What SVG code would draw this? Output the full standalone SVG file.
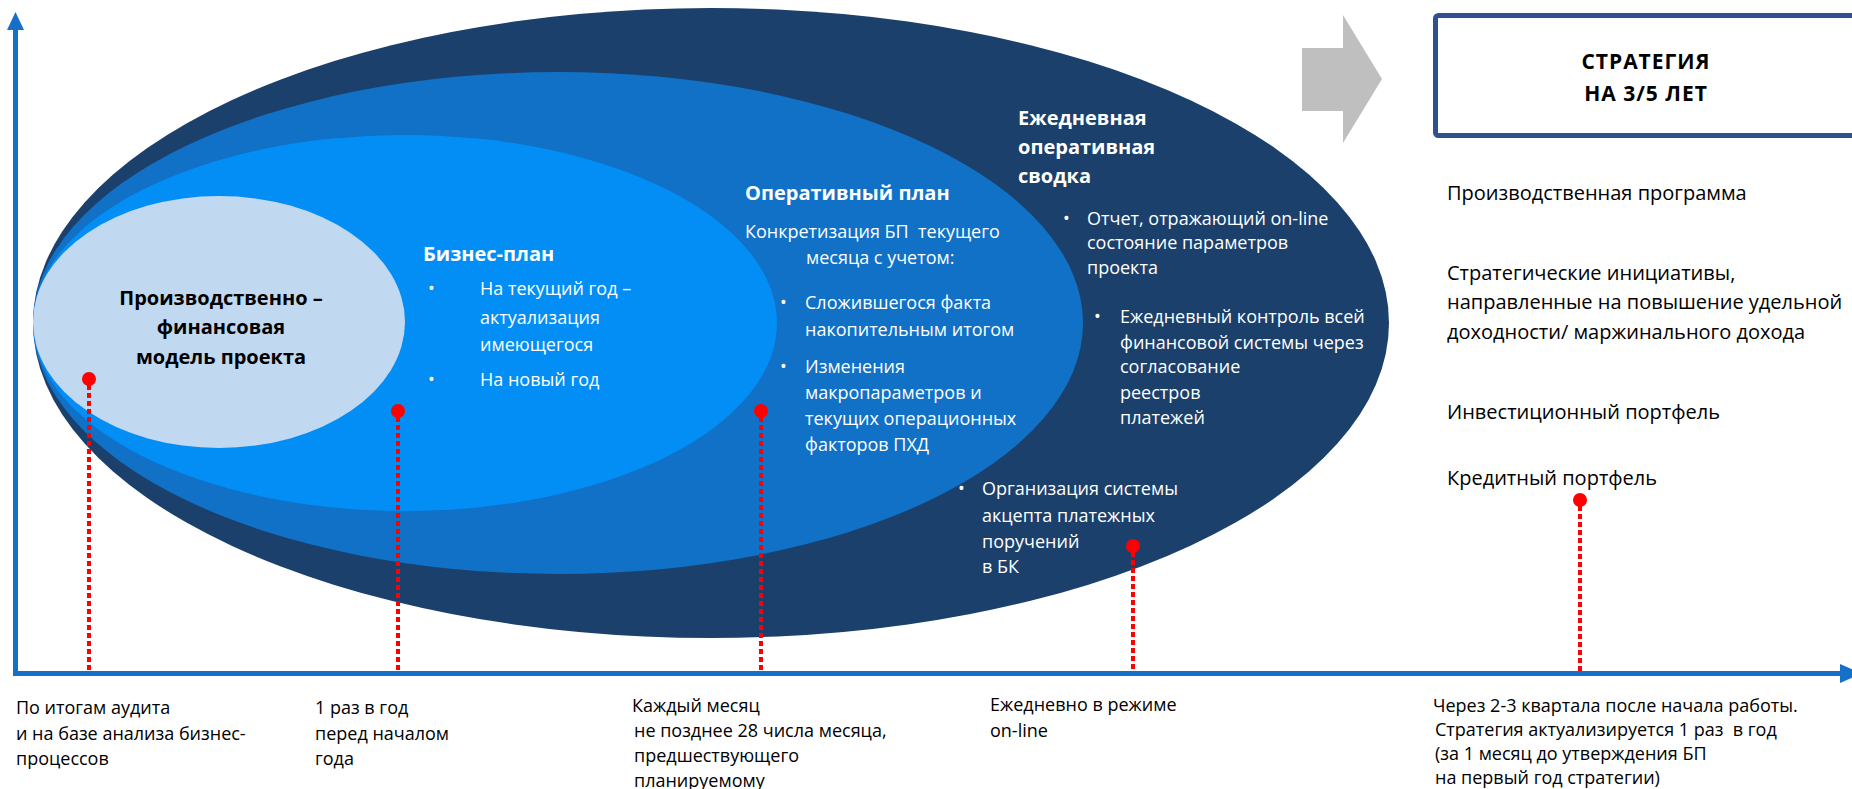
<svg xmlns="http://www.w3.org/2000/svg" width="1852" height="789" viewBox="0 0 1852 789">
<defs>
<style>
text{font-family:"Open Sans","Noto Sans","DejaVu Sans",sans-serif;white-space:pre;}
.w{fill:#ffffff;font-size:18px;}
.wb{fill:#ffffff;font-size:20px;font-weight:bold;}
.kb{fill:#000000;font-size:20px;font-weight:bold;}
.st{fill:#000000;font-size:21px;font-weight:bold;letter-spacing:1px;}
.r{fill:#000000;font-size:20px;}
.b{fill:#000000;font-size:18px;}
.dot{fill:#ff0000;}
.dl{stroke:#ff0000;stroke-width:4;stroke-dasharray:5 3;fill:none;}
.ax{stroke:#1570C8;stroke-width:5;fill:none;}
</style>
</defs>
<rect x="0" y="0" width="1852" height="789" fill="#ffffff"/>

<g id="axes">
<line class="ax" x1="15.5" y1="674" x2="15.5" y2="28"/>
<polygon points="7,30 15.5,12 24,30" fill="#1570C8"/>
<line class="ax" x1="13" y1="673.5" x2="1842" y2="673.5"/>
<polygon points="1840,664 1862,673.5 1840,683" fill="#1570C8"/>
</g>

<g id="daily-summary">
<ellipse cx="711" cy="323" rx="678" ry="315" fill="#1B406C"/>
</g>
<g id="operational-plan">
<ellipse cx="558" cy="323" rx="525" ry="251" fill="#1071C7"/>
</g>
<g id="business-plan">
<ellipse cx="405" cy="323" rx="372" ry="188" fill="#038EF6"/>
</g>
<g id="fin-model">
<ellipse cx="219" cy="322" rx="186" ry="126" fill="#C1D8F1"/>
<text class="kb" x="221" y="305" text-anchor="middle">Производственно –</text>
<text class="kb" x="221" y="334" text-anchor="middle">финансовая</text>
<text class="kb" x="221" y="364" text-anchor="middle">модель проекта</text>
</g>

<g id="business-plan-text">
<text class="wb" x="423" y="261">Бизнес-план</text>
<text class="w" x="428" y="295">•</text>
<text class="w" x="480" y="295">На текущий год –</text>
<text class="w" x="480" y="324">актуализация</text>
<text class="w" x="480" y="351">имеющегося</text>
<text class="w" x="428" y="386">•</text>
<text class="w" x="480" y="386">На новый год</text>
</g>

<g id="operational-plan-text">
<text class="wb" x="745" y="200">Оперативный план</text>
<text class="w" x="745" y="238">Конкретизация БП  текущего</text>
<text class="w" x="806" y="264">месяца с учетом:</text>
<text class="w" x="780" y="309">•</text>
<text class="w" x="805" y="309">Сложившегося факта</text>
<text class="w" x="805" y="336">накопительным итогом</text>
<text class="w" x="780" y="373">•</text>
<text class="w" x="805" y="373">Изменения</text>
<text class="w" x="805" y="399">макропараметров и</text>
<text class="w" x="805" y="425">текущих операционных</text>
<text class="w" x="805" y="451">факторов ПХД</text>
</g>

<g id="daily-summary-text">
<text class="wb" x="1018" y="125">Ежедневная</text>
<text class="wb" x="1018" y="154">оперативная</text>
<text class="wb" x="1018" y="183">сводка</text>
<text class="w" x="1063" y="225">•</text>
<text class="w" x="1087" y="225">Отчет, отражающий on-line</text>
<text class="w" x="1087" y="249">состояние параметров</text>
<text class="w" x="1087" y="274">проекта</text>
<text class="w" x="1094" y="323">•</text>
<text class="w" x="1120" y="323">Ежедневный контроль всей</text>
<text class="w" x="1120" y="349">финансовой системы через</text>
<text class="w" x="1120" y="373">согласование</text>
<text class="w" x="1120" y="399">реестров</text>
<text class="w" x="1120" y="424">платежей</text>
<text class="w" x="958" y="495">•</text>
<text class="w" x="982" y="495">Организация системы</text>
<text class="w" x="982" y="522">акцепта платежных</text>
<text class="w" x="982" y="548">поручений</text>
<text class="w" x="982" y="573">в БК</text>
</g>

<g id="transition-arrow">
<polygon points="1302,48 1343,48 1343,15 1382,79 1343,143 1343,111 1302,111" fill="#BFBFBF"/>
</g>

<g id="strategy">
<rect x="1435.5" y="15.5" width="440" height="120" rx="3" fill="#ffffff" stroke="#2F528F" stroke-width="5"/>
<text class="st" x="1646" y="69" text-anchor="middle">СТРАТЕГИЯ</text>
<text class="st" x="1646" y="101" text-anchor="middle">НА 3/5 ЛЕТ</text>
</g>

<g id="strategy-items">
<text class="r" x="1447" y="200">Производственная программа</text>
<text class="r" x="1447" y="280">Стратегические инициативы,</text>
<text class="r" x="1447" y="309">направленные на повышение удельной</text>
<text class="r" x="1447" y="339">доходности/ маржинального дохода</text>
<text class="r" x="1447" y="419">Инвестиционный портфель</text>
<text class="r" x="1447" y="485">Кредитный портфель</text>
</g>

<g id="connectors">
<line class="dl" x1="89" y1="385" x2="89" y2="672"/>
<line class="dl" x1="398" y1="417" x2="398" y2="672"/>
<line class="dl" x1="761" y1="417" x2="761" y2="672"/>
<line class="dl" x1="1133" y1="552" x2="1133" y2="672"/>
<line class="dl" x1="1580" y1="506" x2="1580" y2="672"/>
<circle class="dot" cx="89" cy="379" r="7"/>
<circle class="dot" cx="398" cy="411" r="7"/>
<circle class="dot" cx="761" cy="411" r="7"/>
<circle class="dot" cx="1133" cy="546" r="7"/>
<circle class="dot" cx="1580" cy="500" r="7"/>
</g>

<g id="timing-labels">
<text class="b" x="16" y="714">По итогам аудита</text>
<text class="b" x="16" y="740">и на базе анализа бизнес-</text>
<text class="b" x="16" y="765">процессов</text>
<text class="b" x="315" y="714">1 раз в год</text>
<text class="b" x="315" y="740">перед началом</text>
<text class="b" x="315" y="765">года</text>
<text class="b" x="632" y="712">Каждый месяц</text>
<text class="b" x="634" y="737">не позднее 28 числа месяца,</text>
<text class="b" x="634" y="762">предшествующего</text>
<text class="b" x="634" y="787">планируемому</text>
<text class="b" x="990" y="711">Ежедневно в режиме</text>
<text class="b" x="990" y="737">on-line</text>
<text class="b" x="1433" y="712">Через 2-3 квартала после начала работы.</text>
<text class="b" x="1435" y="736">Стратегия актуализируется 1 раз  в год</text>
<text class="b" x="1435" y="760">(за 1 месяц до утверждения БП</text>
<text class="b" x="1435" y="784">на первый год стратегии)</text>
</g>
</svg>
